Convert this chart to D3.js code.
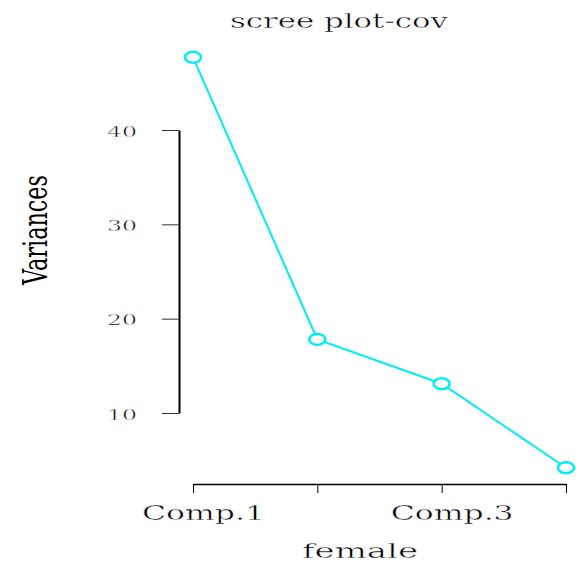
<!DOCTYPE html>
<html>
<head>
<meta charset="utf-8">
<script src="https://cdn.jsdelivr.net/npm/d3@7"></script>
<style>
  html, body { margin: 0; padding: 0; background: #fff; }
  svg { display: block; }
  text { font-family: "DejaVu Serif", serif; fill: #000; }
  text.thin { stroke: #fff; stroke-width: 0.4px; }
</style>
</head>
<body>
<svg id="chart" width="576" height="576"></svg>
<script>
// Scree plot data: variance of each principal component
const components = ["Comp.1", "Comp.2", "Comp.3", "Comp.4"];
const variances = [47.7, 17.8, 13.1, 4.2];
const yTicks = [10, 20, 30, 40];
const titleText = "scree plot-cov";
const xTitle = "female";
const yTitle = "Variances";

const svg = d3.select("#chart");
const lineColor = "#00eeee";

const x = d3.scalePoint().domain(components).range([193, 566]);
const y = d3.scaleLinear().domain([10, 40]).range([413, 130]);

// stretch a text element along its baseline so it spans the given length
function fitWidth(sel, w, suffix = "") {
  sel.each(function () {
    const t = d3.select(this);
    const len = this.getComputedTextLength();
    const base = t.attr("data-base") || "";
    t.attr("transform", base + ` scale(${w / len},1)` + suffix);
  });
}

// x axis (only every other label fits, as in the base graphics device)
const xAxis = d3.axisBottom(x)
  .tickSizeInner(9).tickSizeOuter(0)
  .tickFormat((d, i) => (i % 2 === 0 ? d : ""));
const gx = svg.append("g").attr("transform", "translate(0,484)").call(xAxis);
gx.select(".domain").attr("stroke", "#000").attr("stroke-width", 1.3);
gx.selectAll(".tick line").attr("stroke", "#000").attr("stroke-width", 1);
gx.selectAll(".tick text")
  .attr("class", "thin")
  .attr("y", null).attr("dy", null)
  .attr("font-size", 20).attr("font-family", "DejaVu Serif")
  .attr("data-base", "translate(10,36)")
  .call(fitWidth, 123);

// y axis
const yAxis = d3.axisLeft(y).tickValues(yTicks).tickSizeInner(17).tickSizeOuter(0);
const gy = svg.append("g").attr("transform", "translate(179,0)").call(yAxis);
gy.select(".domain").attr("stroke", "#000").attr("stroke-width", 2);
gy.selectAll(".tick line").attr("stroke", "#333").attr("stroke-width", 1);
gy.selectAll(".tick text")
  .attr("class", "thin")
  .attr("x", null).attr("dy", null)
  .attr("font-size", 14.5).attr("font-family", "DejaVu Serif")
  .attr("data-base", "translate(-42,6)")
  .call(fitWidth, 30);

// series line and point markers
const line = d3.line()
  .x((d, i) => x(components[i]))
  .y(d => y(d));
svg.append("path")
  .datum(variances)
  .attr("d", line)
  .attr("fill", "none")
  .attr("stroke", lineColor)
  .attr("stroke-width", 2);
svg.selectAll("ellipse.pt")
  .data(variances)
  .join("ellipse")
  .attr("class", "pt")
  .attr("cx", (d, i) => x(components[i]))
  .attr("cy", d => y(d))
  .attr("rx", 8)
  .attr("ry", 5.5)
  .attr("fill", "#fff")
  .attr("stroke", lineColor)
  .attr("stroke-width", 2.5);

// titles
svg.append("text")
  .attr("class", "thin")
  .attr("text-anchor", "middle").attr("font-size", 19.5)
  .attr("data-base", "translate(339,28)")
  .text(titleText)
  .call(fitWidth, 218);

svg.append("text")
  .attr("class", "thin")
  .attr("text-anchor", "middle").attr("font-size", 20)
  .attr("data-base", "translate(360,558)")
  .text(xTitle)
  .call(fitWidth, 116);

// vertical axis title: condensed along its length, widened across it
const yLab = svg.append("text")
  .attr("text-anchor", "middle")
  .attr("font-family", "Liberation Serif")
  .attr("font-size", 26)
  .text(yTitle);
const yLen = yLab.node().getComputedTextLength();
yLab.attr("transform", `translate(47,230) scale(1.28,1) rotate(-90) scale(${110 / yLen},1)`);
</script>
</body>
</html>
